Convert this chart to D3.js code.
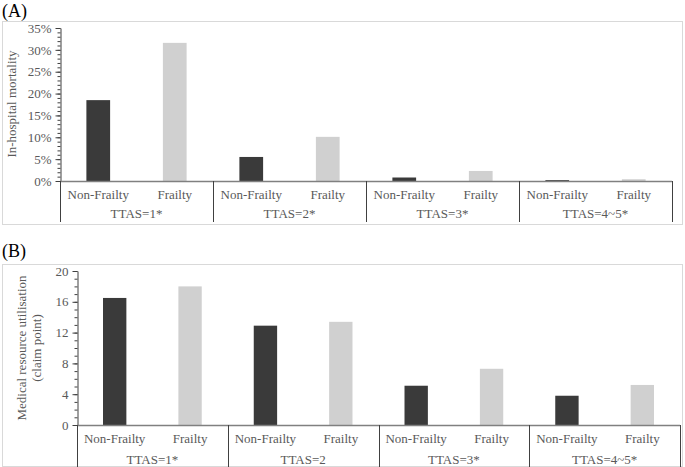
<!DOCTYPE html>
<html>
<head>
<meta charset="utf-8">
<script src="https://cdn.jsdelivr.net/npm/d3@7"></script>
<style>
  body { margin: 0; background: #fff; }
  svg text { font-family: "Liberation Serif", "Times New Roman", serif; fill: #595959; }
</style>
</head>
<body>
<svg id="chart" width="685" height="467"></svg>
<script>
(function(){
  "use strict";

  // groups and sub categories (shared by both panels)
  const groupsA = ["TTAS=1*", "TTAS=2*", "TTAS=3*", "TTAS=4~5*"];
  const groupsB = ["TTAS=1*", "TTAS=2", "TTAS=3*", "TTAS=4~5*"];
  const subs = ["Non-Frailty", "Frailty"];

  // panel A: in-hospital mortality (%)
  const mortNonFrailty = [18.5, 5.5, 0.8, 0.2];
  const mortFrailty = [31.6, 10.1, 2.3, 0.4];
  const mortTicks = [0, 5, 10, 15, 20, 25, 30, 35];

  // panel B: medical resource utilisation (claim point)
  const resNonFrailty = [16.5, 12.9, 5.1, 3.8];
  const resFrailty = [18.0, 13.4, 7.3, 5.2];
  const resTicks = [0, 4, 8, 12, 16, 20];

  const colors = {"Non-Frailty": "#3a3a3a", "Frailty": "#d0d0d0"};

  const svg = d3.select("#chart");

  function drawPanel(cfg){
    const g = svg.append("g");

    // light frame around the panel
    g.append("rect")
      .attr("x", cfg.frame[0] + 0.5).attr("y", cfg.frame[1] + 0.5)
      .attr("width", cfg.frame[2]).attr("height", cfg.frame[3])
      .attr("fill", "none").attr("stroke", "#d9d9d9");

    // panel letter
    g.append("text")
      .attr("x", 2).attr("y", cfg.letterY)
      .style("font-size", "18px").style("fill", "#000")
      .text(cfg.letter);

    const y = d3.scaleLinear().domain(cfg.domain).range([cfg.y0, cfg.yTop]);
    const x0 = d3.scaleBand().domain(cfg.groups).range([cfg.xLeft, cfg.xRight]);
    const x1 = d3.scaleBand().domain(subs).range([0, x0.bandwidth()])
                 .paddingInner(0.69).paddingOuter(0.345);

    // bars
    const rows = cfg.groups.map((grp, i) => ({
      grp,
      vals: [{k: "Non-Frailty", v: cfg.nf[i]}, {k: "Frailty", v: cfg.f[i]}]
    }));
    g.selectAll("g.grp").data(rows).enter().append("g")
      .attr("class", "grp")
      .attr("transform", d => `translate(${x0(d.grp)},0)`)
      .selectAll("rect").data(d => d.vals).enter().append("rect")
        .attr("x", d => x1(d.k))
        .attr("width", x1.bandwidth())
        .attr("y", d => y(d.v))
        .attr("height", d => y(0) - y(d.v))
        .attr("fill", d => colors[d.k]);

    // minor ticks
    const minor = d3.range(cfg.domain[0], cfg.domain[1] + 1e-9, cfg.minorStep);
    const yMinor = g.append("g")
      .attr("transform", `translate(${cfg.xLeft + 0.5},0)`)
      .call(d3.axisLeft(y).tickValues(minor).tickSize(3).tickFormat(""));
    yMinor.select(".domain").remove();
    yMinor.selectAll("line").attr("stroke", "#404040");

    // y axis with major ticks
    const yAxis = g.append("g")
      .attr("transform", `translate(${cfg.xLeft + 0.5},0)`)
      .call(d3.axisLeft(y).tickValues(cfg.ticks).tickSize(5).tickSizeOuter(0)
              .tickFormat(cfg.fmt).tickPadding(4));
    yAxis.select(".domain").attr("stroke", "#404040");
    yAxis.selectAll("line").attr("stroke", "#404040");
    yAxis.selectAll("text").style("font-size", "13px").style("fill", "#595959")
         .style("font-family", "Liberation Serif");

    // baseline
    g.append("line")
      .attr("x1", cfg.xLeft).attr("x2", cfg.xRight)
      .attr("y1", y(0) + 0.5).attr("y2", y(0) + 0.5)
      .attr("stroke", "#808080").attr("stroke-width", 1.5);

    // category dividers
    const edges = cfg.groups.map(d => x0(d)).concat([cfg.xRight]);
    g.selectAll("line.div").data(edges).enter().append("line")
      .attr("class", "div")
      .attr("x1", d => Math.round(d) + 0.5).attr("x2", d => Math.round(d) + 0.5)
      .attr("y1", y(0)).attr("y2", cfg.divBottom)
      .attr("stroke", "#404040");

    // sub labels
    const subLabels = [];
    cfg.groups.forEach(grp => subs.forEach(s => subLabels.push({grp, s})));
    g.selectAll("text.sub").data(subLabels).enter().append("text")
      .attr("class", "sub")
      .attr("x", d => x0(d.grp) + x1(d.s) + x1.bandwidth() / 2)
      .attr("y", cfg.subY)
      .attr("text-anchor", "middle")
      .style("font-size", "13px")
      .text(d => d.s);

    // group labels
    g.selectAll("text.grpl").data(cfg.groups).enter().append("text")
      .attr("class", "grpl")
      .attr("x", d => x0(d) + x0.bandwidth() / 2)
      .attr("y", cfg.grpY)
      .attr("text-anchor", "middle")
      .style("font-size", "13px")
      .text(d => d);

    // y title
    const title = g.append("text")
      .attr("transform", `translate(${cfg.titleX},${cfg.titleY}) rotate(-90)`)
      .attr("text-anchor", "middle")
      .style("font-size", "13px");
    cfg.title.forEach((line, i) => {
      title.append("tspan").attr("x", 0).attr("dy", i === 0 ? 0 : 15).text(line);
    });
  }

  drawPanel({
    letter: "(A)", letterY: 17,
    frame: [2, 21, 680, 203],
    groups: groupsA, nf: mortNonFrailty, f: mortFrailty,
    domain: [0, 35], ticks: mortTicks, minorStep: 1,
    fmt: d => d + "%",
    xLeft: 60, xRight: 672, y0: 181, yTop: 28,
    divBottom: 222, subY: 199, grpY: 218,
    title: ["In-hospital mortality"], titleX: 16, titleY: 104
  });

  drawPanel({
    letter: "(B)", letterY: 257,
    frame: [2, 264, 680, 202],
    groups: groupsB, nf: resNonFrailty, f: resFrailty,
    domain: [0, 20], ticks: resTicks, minorStep: 1,
    fmt: d => d,
    xLeft: 77, xRight: 680, y0: 425, yTop: 271,
    divBottom: 467, subY: 443, grpY: 464,
    title: ["Medical resource utilisation", "(claim point)"], titleX: 26, titleY: 348
  });

})();
</script>
</body>
</html>
